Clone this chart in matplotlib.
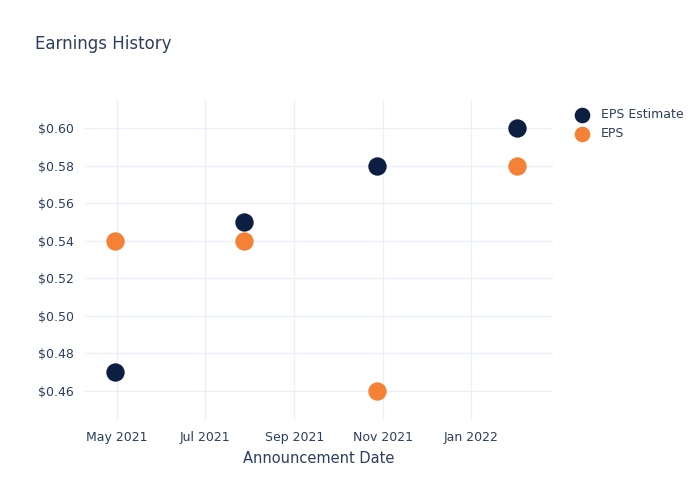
import pandas as pd
import matplotlib.pyplot as plt
import matplotlib.dates as mdates
from matplotlib.ticker import FuncFormatter

# -----------------------------
# Data
# -----------------------------
dates = pd.to_datetime(["2021-04-30", "2021-07-28", "2021-10-28", "2022-02-02"])
eps_estimate = [0.47, 0.55, 0.58, 0.60]
eps_actual = [0.54, 0.54, 0.46, 0.58]

navy = "#0c1f42"
orange = "#f58137"
text_color = "#2a3f5f"
grid_color = "#ebf0f8"

# -----------------------------
# Plot
# -----------------------------
fig = plt.figure(figsize=(7, 5), dpi=100)
ax = fig.add_axes([0.1214, 0.16, 0.6686, 0.64])

ax.scatter(dates, eps_estimate, s=175, color=navy, label="EPS Estimate", zorder=3, linewidths=0)
ax.scatter(dates, eps_actual, s=175, color=orange, label="EPS", zorder=3, linewidths=0)

ax.set_xlim(pd.Timestamp("2021-04-09"), pd.Timestamp("2022-02-27"))
ax.set_ylim(0.4446, 0.6149)

ax.xaxis.set_major_locator(mdates.MonthLocator(bymonth=[1, 3, 5, 7, 9, 11]))
ax.xaxis.set_major_formatter(mdates.DateFormatter("%b %Y"))
ax.set_yticks([0.46, 0.48, 0.50, 0.52, 0.54, 0.56, 0.58, 0.60])
ax.yaxis.set_major_formatter(FuncFormatter(lambda v, p: f"${v:.2f}"))

ax.grid(True, color=grid_color, linewidth=1)
ax.set_axisbelow(True)
for s in ax.spines.values():
    s.set_visible(False)
ax.tick_params(length=0, labelsize=9, colors=text_color, pad=8)

ax.set_xlabel("Announcement Date", fontsize=10.5, color=text_color, labelpad=5)
fig.text(0.05, 0.912, "Earnings History", fontsize=12, color=text_color, va="center")

leg = ax.legend(loc="upper left", bbox_to_anchor=(1.025, 0.99), frameon=False,
                fontsize=9, labelcolor=text_color, handletextpad=0.5,
                borderaxespad=0, labelspacing=0.45, markerscale=0.85)

plt.savefig("out.png")
